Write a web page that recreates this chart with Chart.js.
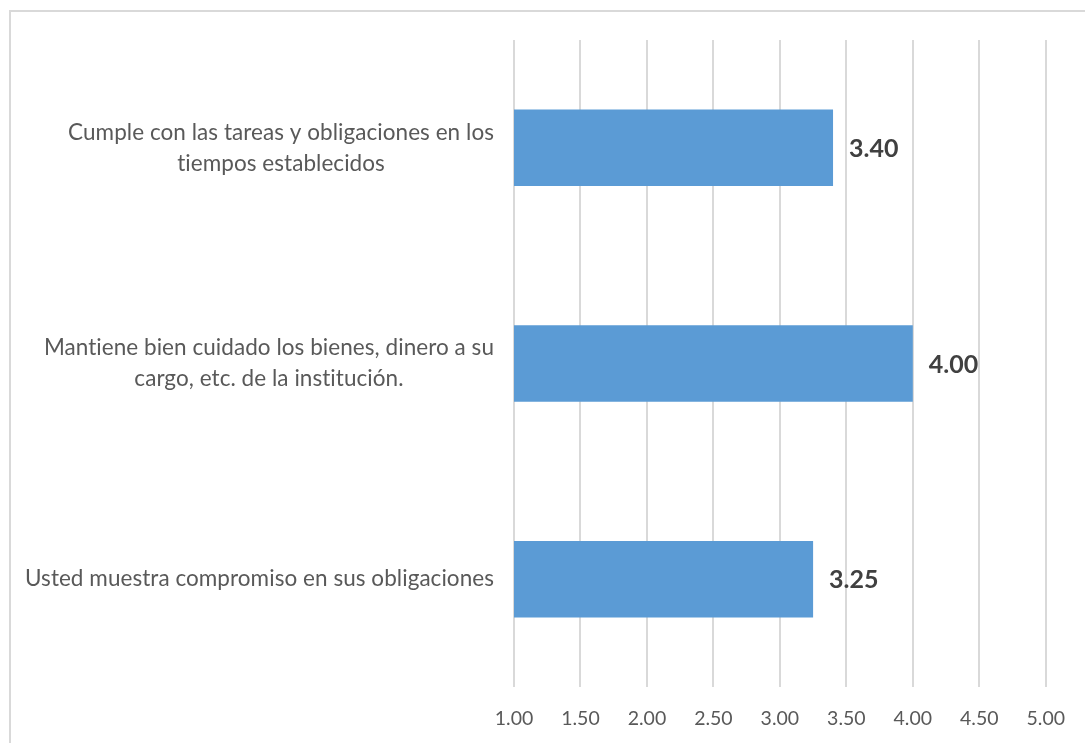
<!DOCTYPE html>
<html lang="es">
<head>
<meta charset="UTF-8">
<title>Compromiso y cumplimiento</title>
<script src="https://cdn.jsdelivr.net/npm/chart.js"></script>
<style>
  html, body { margin: 0; padding: 0; background: #fff; overflow: hidden; }
  #marco {
    position: absolute; left: 9px; top: 10px; width: 1200px; height: 900px;
    border: 2px solid #d9d9d9; box-sizing: border-box;
  }
  #lienzo { position: absolute; left: 0; top: 0; }
</style>
</head>
<body>
<div id="marco"></div>
<div id="lienzo" style="width:1085px;height:743px">
  <canvas id="grafico"></canvas>
</div>
<script>
// categorias (de arriba hacia abajo), cada una partida en lineas
const categorias = [
  ["Cumple con las tareas y obligaciones en los", "tiempos establecidos"],
  ["Mantiene bien cuidado los bienes, dinero a su", "cargo, etc. de la institución."],
  ["Usted muestra compromiso en sus obligaciones"]
]
const promedios = [3.40, 4.00, 3.25]
const escalaMin = 1
const escalaMax = 5
const paso = 0.5

const fuente = "Lato, 'Open Sans', sans-serif"

// etiquetas del eje vertical centradas linea por linea
const etiquetasCategoria = {
  id: "etiquetasCategoria",
  afterDraw(chart) {
    const ctx = chart.ctx
    const ejeY = chart.scales.y
    const bordeDerecho = 494
    const alto = 31
    ctx.save()
    ctx.font = "22.5px " + fuente
    ctx.letterSpacing = "0.05px" // evita la ligadura "ti" de Lato
    ctx.fillStyle = "#595959"
    ctx.textAlign = "center"
    ctx.textBaseline = "middle"
    categorias.forEach((lineas, i) => {
      const y = ejeY.getPixelForValue(i)
      let ancho = 0
      lineas.forEach(l => { ancho = Math.max(ancho, ctx.measureText(l).width) })
      const x = bordeDerecho - ancho / 2
      const y0 = y - (lineas.length - 1) * alto / 2
      lineas.forEach((l, k) => ctx.fillText(l, x, y0 + k * alto))
    })
    ctx.restore()
  }
}

// valor al final de cada barra
const valoresBarra = {
  id: "valoresBarra",
  afterDatasetsDraw(chart) {
    const ctx = chart.ctx
    const meta = chart.getDatasetMeta(0)
    ctx.save()
    ctx.font = "bold 25px " + fuente
    ctx.fillStyle = "#404040"
    ctx.textAlign = "left"
    ctx.textBaseline = "middle"
    meta.data.forEach((barra, i) => {
      ctx.fillText(promedios[i].toFixed(2), barra.x + 16, barra.y + 1)
    })
    ctx.restore()
  }
}

new Chart(document.getElementById("grafico"), {
  type: "bar",
  data: {
    labels: categorias.map(c => c.join(" ")),
    datasets: [{
      data: promedios,
      backgroundColor: "#5b9bd5",
      borderWidth: 0,
      categoryPercentage: 1,
      barPercentage: 0.355
    }]
  },
  options: {
    indexAxis: "y",
    responsive: true,
    maintainAspectRatio: false,
    animation: false,
    layout: { padding: { top: 40, right: 37, left: 0, bottom: 0 } },
    plugins: {
      legend: { display: false },
      tooltip: { enabled: false }
    },
    scales: {
      x: {
        min: escalaMin,
        max: escalaMax,
        afterFit: s => { s.height = 56 },
        grid: { color: "#d9d9d9", lineWidth: 2, drawTicks: false },
        border: { display: false },
        ticks: {
          stepSize: paso,
          padding: 20,
          color: "#595959",
          font: { family: fuente, size: 19.5 },
          callback: v => Number(v).toFixed(2)
        }
      },
      y: {
        afterFit: s => { s.width = 514 },
        grid: { display: false },
        border: { display: false },
        ticks: { display: false }
      }
    }
  },
  plugins: [etiquetasCategoria, valoresBarra]
})
</script>
</body>
</html>
